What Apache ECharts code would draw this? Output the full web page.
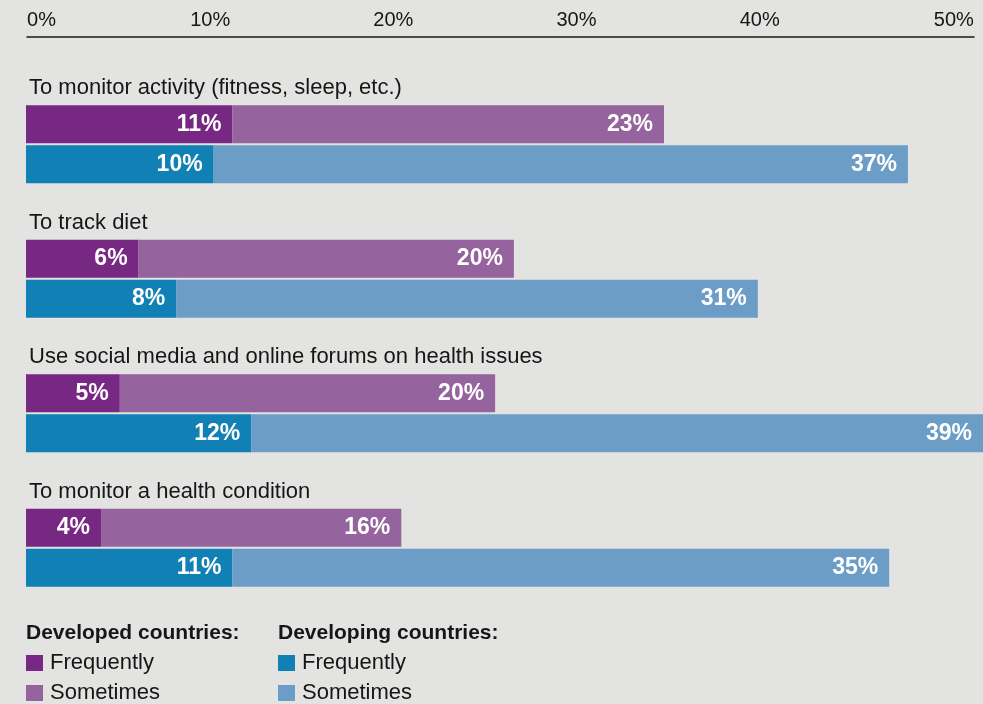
<!DOCTYPE html>
<html>
<head>
<meta charset="utf-8">
<script src="https://cdn.jsdelivr.net/npm/echarts@6/dist/echarts.min.js"></script>
<style>
html, body { margin: 0; padding: 0; background: #e3e3e2; }
#main { width: 983px; height: 704px; }
</style>
</head>
<body>
<div id="main"></div>
<script>
// data
var categories = [
	'To monitor activity (fitness, sleep, etc.)',
	'To track diet',
	'Use social media and online forums on health issues',
	'To monitor a health condition'
];
var developedFrequently = [11, 6, 5, 4];
var developedSometimes = [23, 20, 20, 16];
var developingFrequently = [10, 8, 12, 11];
var developingSometimes = [37, 31, 39, 35];
var tickLabels = ['0%', '10%', '20%', '30%', '40%', '50%'];

var font = '"Liberation Sans", Arial, sans-serif';
var txt = '#161616';

function barLabel() {
	return {
		show: true,
		position: 'insideRight',
		distance: 11,
		color: '#fff',
		fontFamily: font,
		fontWeight: 'bold',
		fontSize: 23,
		formatter: '{c}%'
	};
}

echarts.init(document.getElementById('main')).setOption({
	backgroundColor: '#e3e3e2',
	animation: false,
	title: [
		{ text: 'Developed countries:', left: 26, top: 623, padding: 0,
			textStyle: { fontFamily: font, fontSize: 21, fontWeight: 'bold', color: txt } },
		{ text: 'Developing countries:', left: 278, top: 623, padding: 0,
			textStyle: { fontFamily: font, fontSize: 21, fontWeight: 'bold', color: txt } }
	],
	legend: [
		{
			orient: 'vertical', left: 26, top: 652, padding: 0,
			itemWidth: 17, itemHeight: 16, itemGap: 8,
			icon: 'rect',
			data: ['Developed frequently', 'Developed sometimes'],
			formatter: function (n) { return n.indexOf('frequently') > -1 ? 'Frequently' : 'Sometimes'; },
			textStyle: { fontFamily: font, fontSize: 22, lineHeight: 22, color: txt, padding: [0, 0, 0, 2] }
		},
		{
			orient: 'vertical', left: 278, top: 652, padding: 0,
			itemWidth: 17, itemHeight: 16, itemGap: 8,
			icon: 'rect',
			data: ['Developing frequently', 'Developing sometimes'],
			formatter: function (n) { return n.indexOf('frequently') > -1 ? 'Frequently' : 'Sometimes'; },
			textStyle: { fontFamily: font, fontSize: 22, lineHeight: 22, color: txt, padding: [0, 0, 0, 2] }
		}
	],
	grid: [
		{ left: 26, right: 0, top: 77, bottom: 89 },
		{ left: 27, right: 9, top: 37, height: 1 }
	],
	xAxis: [
		{
			gridIndex: 0, type: 'value', min: 0, max: 51,
			show: false
		},
		{
			gridIndex: 1, type: 'value', min: 0, max: 51.7, interval: 10,
			position: 'top',
			axisLine: { show: true, lineStyle: { color: '#1a1a1a', width: 1.5 } },
			axisTick: { show: false },
			splitLine: { show: false },
			axisLabel: {
				showMaxLabel: false,
				margin: 7,
				fontFamily: font, fontSize: 20, color: txt,
				formatter: function (v) {
					var s = tickLabels[Math.round(v / 10)];
					if (v === 0) return '{first|' + s + '}';
					if (v === 50) return '{last|' + s + '}';
					return s;
				},
				rich: {
					first: { fontFamily: font, fontSize: 20, color: txt, padding: [0, 0, 0, 29] },
					last: { fontFamily: font, fontSize: 20, color: txt, padding: [0, 0, 0, 22] }
				}
			}
		}
	],
	yAxis: [
		{
			gridIndex: 0, type: 'category', inverse: true,
			data: categories,
			axisLine: { show: false },
			axisTick: { show: false },
			axisLabel: {
				inside: true, margin: 3,
				align: 'left', verticalAlign: 'bottom',
				padding: [0, 0, 45, 0],
				fontFamily: font, fontSize: 22, lineHeight: 22, color: txt
			}
		},
		{ gridIndex: 1, type: 'category', show: false, data: [''] }
	],
	series: [
		{
			type: 'bar', name: 'Developed frequently', stack: 'developed',
			xAxisIndex: 0, yAxisIndex: 0,
			barWidth: 38, barGap: '5.3%',
			itemStyle: { color: '#772882' },
			label: barLabel(),
			data: developedFrequently
		},
		{
			type: 'bar', name: 'Developed sometimes', stack: 'developed',
			xAxisIndex: 0, yAxisIndex: 0,
			barWidth: 38, barGap: '5.3%',
			itemStyle: { color: '#95639d' },
			label: barLabel(),
			data: developedSometimes
		},
		{
			type: 'bar', name: 'Developing frequently', stack: 'developing',
			xAxisIndex: 0, yAxisIndex: 0,
			barWidth: 38, barGap: '5.3%',
			itemStyle: { color: '#1180b4' },
			label: barLabel(),
			data: developingFrequently
		},
		{
			type: 'bar', name: 'Developing sometimes', stack: 'developing',
			xAxisIndex: 0, yAxisIndex: 0,
			barWidth: 38, barGap: '5.3%',
			itemStyle: { color: '#6b9dc7' },
			label: barLabel(),
			data: developingSometimes
		}
	]
});
</script>
</body>
</html>
